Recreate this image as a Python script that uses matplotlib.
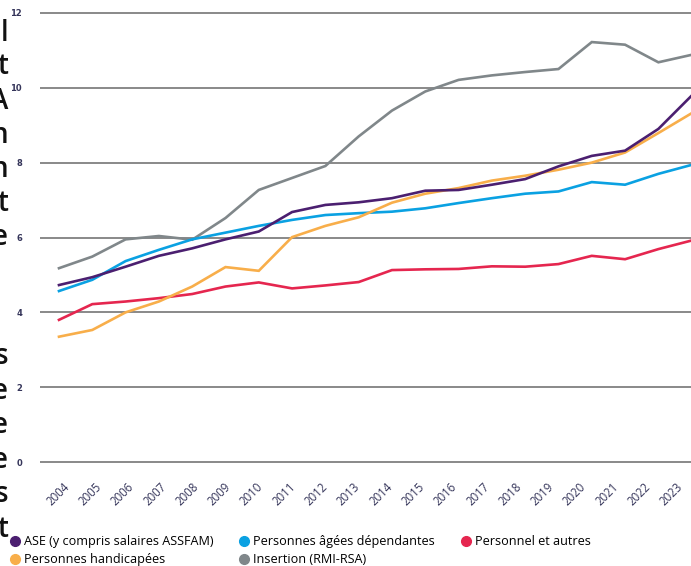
import matplotlib
matplotlib.use("Agg")
import matplotlib.pyplot as plt
from matplotlib.lines import Line2D

# Data (in billions of euros)
years = list(range(2004, 2024))
ase = [4.73, 4.94, 5.22, 5.51, 5.71, 5.95, 6.16, 6.68, 6.87, 6.94,
       7.05, 7.25, 7.27, 7.41, 7.56, 7.90, 8.18, 8.32, 8.90, 9.79]
agees = [4.57, 4.87, 5.37, 5.67, 5.95, 6.13, 6.31, 6.47, 6.60, 6.65,
         6.69, 6.78, 6.92, 7.05, 7.17, 7.23, 7.48, 7.41, 7.70, 7.94]
personnel = [3.80, 4.22, 4.29, 4.38, 4.49, 4.69, 4.80, 4.64, 4.72, 4.81,
             5.13, 5.15, 5.16, 5.23, 5.22, 5.29, 5.51, 5.42, 5.69, 5.92]
handicap = [3.35, 3.53, 4.00, 4.29, 4.69, 5.21, 5.11, 6.01, 6.31, 6.54,
            6.93, 7.17, 7.32, 7.52, 7.65, 7.81, 8.00, 8.27, 8.79, 9.32]
insertion = [5.18, 5.49, 5.95, 6.04, 5.94, 6.52, 7.27, 7.59, 7.91, 8.70,
             9.39, 9.90, 10.21, 10.33, 10.42, 10.50, 11.22, 11.15, 10.68, 10.88]
yticks = [0, 2, 4, 6, 8, 10, 12]

labels = ["ASE (y compris salaires ASSFAM)", "Personnes âgées dépendantes",
          "Personnel et autres", "Personnes handicapées", "Insertion (RMI-RSA)"]
colors = ["#4b1f70", "#0aa1e2", "#e5264f", "#f8ae4a", "#80878a"]

# cut-off letters of the neighbouring text column on the left
frag_chars = ["l", "t", "A", "n", "n", "t", "e", "s", "e", "e", "e", "s", "t"]
frag_base = [41, 74, 109, 143, 177, 211, 245, 364, 399, 433, 468, 502, 537]

W, H = 691, 566
fig = plt.figure(figsize=(W / 100, H / 100), dpi=100)
ax = fig.add_axes([40 / W, 1 - 464 / H, 1 - 40 / W, (464 - 11) / H])

for vals, c in [(insertion, colors[4]), (personnel, colors[2]), (agees, colors[1]),
                (handicap, colors[3]), (ase, colors[0])]:
    ax.plot(years, vals, color=c, lw=1.9, solid_joinstyle="miter")

ax.set_xlim(2003.43, 2022.98)
ax.set_ylim(-0.05, 12.05)
ax.set_yticks(yticks)
ax.yaxis.grid(True, color="#6a6a6a", lw=1.1)
ax.set_axisbelow(True)
ax.tick_params(axis="y", length=0, pad=13, labelsize=6, labelcolor="#35355a")
for t in ax.get_yticklabels():
    t.set_fontweight("bold")
ax.set_xticks([])
for s in ax.spines.values():
    s.set_visible(False)

# year labels sit on their own, slightly tighter scale
ax2 = ax.twiny()
ax2.set_xlim(2003.443, 2023.60)
ax2.xaxis.set_ticks_position("bottom")
ax2.set_xticks(years)
ax2.set_xticklabels([str(y) for y in years], rotation=45, ha="center",
                    fontsize=8.3, color="#35355a", family="Open Sans")
ax2.tick_params(axis="x", length=0, pad=12)
for s in ax2.spines.values():
    s.set_visible(False)

handles = [Line2D([], [], ls="none", marker="o", ms=7, color=c) for c in colors]
order = [0, 3, 1, 4, 2]
fig.legend([handles[i] for i in order], [labels[i] for i in order],
           ncol=3, loc="upper left", bbox_to_anchor=(10.5 / W, 1 - 535 / H),
           frameon=False, prop={"family": "Open Sans", "size": 9.1},
           handlelength=0.7, handletextpad=0.35, columnspacing=2.1,
           labelspacing=0.4, borderpad=0, borderaxespad=0)

for ch, yb in zip(frag_chars, frag_base):
    fig.text(8 / W, 1 - yb / H, ch, ha="right", va="baseline",
             fontsize=20, fontweight="semibold", color="#111111", family="Open Sans")

fig.savefig("out.png", dpi=100)
